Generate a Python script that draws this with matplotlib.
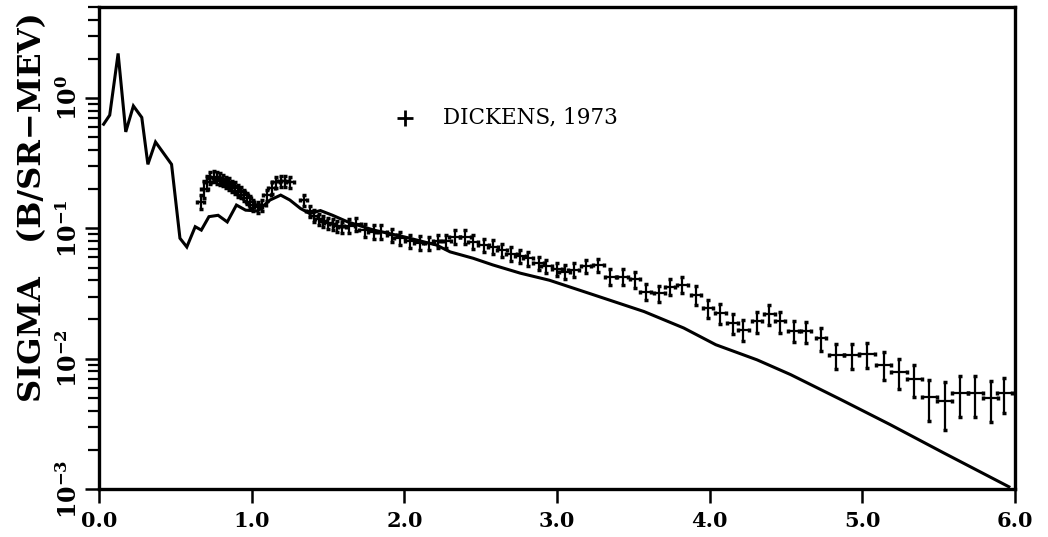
import matplotlib
matplotlib.use("Agg")
import matplotlib.pyplot as plt
from matplotlib.ticker import FixedLocator, LogLocator, NullFormatter

# ---------------- data ----------------
theory_x = [0.03, 0.07, 0.125, 0.175, 0.225, 0.28, 0.32, 0.37, 0.475, 0.53,
            0.575, 0.63, 0.67, 0.72, 0.78, 0.84, 0.90, 0.96, 1.04, 1.12,
            1.19, 1.25, 1.32, 1.38, 1.45, 1.53, 1.63, 1.80, 2.00, 2.21,
            2.30, 2.45, 2.58, 2.76, 2.95, 3.24, 3.57, 3.83, 4.04, 4.31,
            4.53, 4.86, 5.18, 5.53, 5.96]
theory_y = [0.63, 0.74, 2.2, 0.55, 0.87, 0.71, 0.31, 0.46, 0.31, 0.084,
            0.072, 0.103, 0.097, 0.123, 0.126, 0.112, 0.151, 0.138, 0.136, 0.165,
            0.18, 0.165, 0.142, 0.130, 0.137, 0.126, 0.112, 0.097, 0.086, 0.0745,
            0.066, 0.059, 0.0524, 0.0453, 0.040, 0.0309, 0.023, 0.0172, 0.0128, 0.0098,
            0.00755, 0.00485, 0.00313, 0.0019, 0.00104]

dickens_x = [0.665, 0.69, 0.71, 0.73, 0.75, 0.77, 0.79, 0.81, 0.83, 0.85,
             0.87, 0.89, 0.91, 0.93, 0.95, 0.97, 0.99, 1.01, 1.04, 1.07,
             1.10, 1.13, 1.16, 1.19, 1.22, 1.25, 1.34, 1.38, 1.41, 1.44,
             1.47, 1.50, 1.53, 1.56, 1.59, 1.64, 1.68, 1.74, 1.80, 1.85,
             1.92, 1.97, 2.04, 2.10, 2.16, 2.22, 2.27, 2.33, 2.40, 2.45,
             2.52, 2.58, 2.64, 2.70, 2.76, 2.81, 2.88, 2.93, 3.00, 3.05,
             3.11, 3.19, 3.27, 3.35, 3.43, 3.51, 3.58, 3.67, 3.74, 3.82,
             3.91, 3.99, 4.07, 4.15, 4.22, 4.31, 4.39, 4.46, 4.55, 4.63,
             4.73, 4.83, 4.93, 5.03, 5.14, 5.24, 5.34, 5.44, 5.54, 5.64,
             5.74, 5.84, 5.93]
dickens_y = [0.160, 0.200, 0.225, 0.245, 0.250, 0.245, 0.240, 0.235, 0.225, 0.220,
             0.210, 0.205, 0.195, 0.190, 0.180, 0.170, 0.160, 0.150, 0.145, 0.150,
             0.180, 0.205, 0.225, 0.230, 0.230, 0.225, 0.165, 0.135, 0.125, 0.118,
             0.113, 0.110, 0.108, 0.104, 0.102, 0.105, 0.108, 0.097, 0.094, 0.094,
             0.089, 0.084, 0.080, 0.0776, 0.077, 0.080, 0.080, 0.086, 0.086, 0.079,
             0.0745, 0.0723, 0.0682, 0.064, 0.0614, 0.0589, 0.054, 0.0515, 0.0486, 0.0466,
             0.048, 0.0515, 0.0524, 0.0427, 0.0427, 0.0407, 0.0327, 0.0318, 0.0357, 0.0370,
             0.0309, 0.0244, 0.0224, 0.0188, 0.0167, 0.0193, 0.0220, 0.0193, 0.0164, 0.0162,
             0.0144, 0.0107, 0.0107, 0.0109, 0.0090, 0.0079, 0.0070, 0.0051, 0.0047, 0.0055,
             0.0055, 0.0050, 0.0055]
# relative (percent) uncertainty of each point
dickens_err_pct = [12, 15, 12, 10, 10, 10, 10, 10, 10, 10,
                   10, 10, 10, 10, 10, 10, 10, 10, 10, 10,
                   10, 10, 10, 10, 10, 10, 10, 10, 10, 10,
                   10, 10, 10, 10, 10, 12, 12, 12, 12, 12,
                   12, 12, 12, 12, 12, 12, 12, 12, 12, 12,
                   12, 12, 12, 12, 12, 12, 12, 12, 12, 12,
                   12, 12, 12, 14, 14, 14, 14, 14, 14, 14,
                   16, 16, 18, 18, 18, 18, 18, 18, 18, 18,
                   20, 22, 22, 22, 24, 26, 28, 35, 40, 35,
                   35, 35, 30]
# energy bin half-widths
dickens_xerr = [0.025] * 35 + [0.035] * 46 + [0.05] * 12

x_ticks = [0, 1, 2, 3, 4, 5, 6]
x_tick_labels = ["0.0", "1.0", "2.0", "3.0", "4.0", "5.0", "6.0"]
y_ticks = [1e-3, 1e-2, 1e-1, 1e0]
y_tick_labels = [r"$\mathregular{10^{-3}}$", r"$\mathregular{10^{-2}}$",
                 r"$\mathregular{10^{-1}}$", r"$\mathregular{10^{0}}$"]
legend_label = "DICKENS, 1973"
y_label = "SIGMA   (B/SR\u2212MEV)"

# ---------------- figure ----------------
plt.rcParams["font.family"] = ["DejaVu Serif"]
plt.rcParams["mathtext.fontset"] = "dejavuserif"

fig = plt.figure(figsize=(10.48, 5.37), dpi=100)
ax = fig.add_axes([0.0945, 0.0894, 0.874, 0.8976])

ax.plot(theory_x, theory_y, color="black", lw=2.2, solid_joinstyle="miter")

yerr = [y * p / 100.0 for y, p in zip(dickens_y, dickens_err_pct)]
ax.errorbar(dickens_x, dickens_y, yerr=yerr, xerr=dickens_xerr, fmt="none",
            ecolor="black", elinewidth=1.6, capsize=1.5, capthick=2.5)

ax.set_yscale("log")
ax.set_xlim(0, 6)
ax.set_ylim(1e-3, 5)

ax.xaxis.set_major_locator(FixedLocator(x_ticks))
ax.set_xticklabels(x_tick_labels, fontsize=15, fontweight="bold")
ax.yaxis.set_major_locator(FixedLocator(y_ticks))
ax.set_yticklabels(y_tick_labels, fontsize=17, fontweight="bold",
                   rotation=90, va="center")
ax.yaxis.set_minor_locator(LogLocator(base=10, subs=range(2, 10), numticks=20))
ax.yaxis.set_minor_formatter(NullFormatter())

ax.tick_params(axis="both", which="major", direction="out", length=10, width=1.8,
               top=False, right=False)
ax.tick_params(axis="y", which="minor", direction="out", length=8, width=1.6)
ax.tick_params(axis="x", which="minor", bottom=False)
ax.tick_params(axis="y", which="major", pad=2)
ax.tick_params(axis="x", which="major", pad=6)

for sp in ax.spines.values():
    sp.set_linewidth(2.4)

ax.set_ylabel(y_label, fontsize=23, fontweight="bold")
ax.yaxis.set_label_coords(-0.056, 0.585)

# legend entry
ax.plot([0.334], [0.77], marker="+", color="black", markersize=12, mew=2,
        transform=ax.transAxes, clip_on=False)
ax.text(0.3755, 0.77, legend_label, transform=ax.transAxes, fontsize=15.5,
        va="center", ha="left")

fig.savefig("out.png", dpi=100)
